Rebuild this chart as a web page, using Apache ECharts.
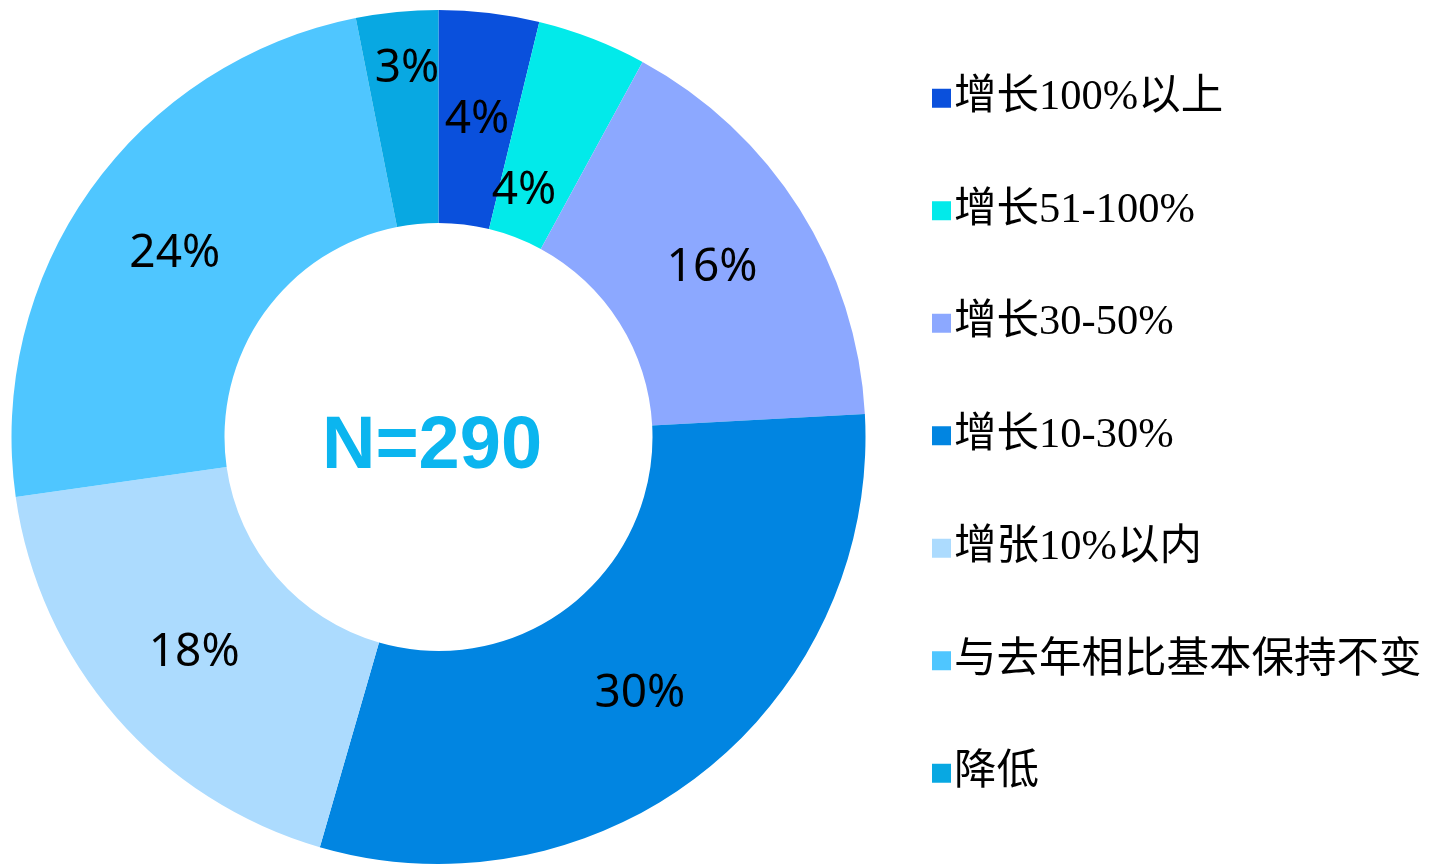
<!DOCTYPE html>
<html>
<head>
<meta charset="utf-8">
<script src="https://cdn.jsdelivr.net/npm/echarts@6/dist/echarts.min.js"></script>
<style>
  html, body { margin: 0; padding: 0; background: #fff; }
  #main { width: 1429px; height: 865px; }
</style>
</head>
<body>
<div id="main"></div>
<script>
// counts out of N=290
var categories = ['增长100%以上', '增长51-100%', '增长30-50%', '增长10-30%', '增张10%以内', '与去年相比基本保持不变', '降低'];
var counts = [11, 12, 47, 88, 53, 70, 9];
var colors = ['#0A50DC', '#02EAEA', '#8CA8FF', '#0185E1', '#ACDBFE', '#4FC6FF', '#08A8E2'];
var totalText = 'N=290';

// labels of the two small top slices are nudged off the ring middle
var labelShift = {
    '增长51-100%': [-31, 52],
    '降低': [0, -50]
};

var pieData = categories.map(function (name, i) {
    return { name: name, value: counts[i], itemStyle: { color: colors[i] } };
});

var myChart = echarts.init(document.getElementById('main'));
var option = {
    animation: false,
    legend: {
        orient: 'vertical',
        left: 927,
        top: 72,
        icon: 'rect',
        itemWidth: 19,
        itemHeight: 19,
        itemGap: 70,
        textStyle: {
            fontFamily: '"Liberation Serif", "Noto Sans CJK SC"',
            fontSize: 42.5,
            lineHeight: 42,
            color: '#000',
            padding: [0, 0, 0, -2]
        },
        data: categories
    },
    graphic: [{
        type: 'text',
        x: 432,
        y: 448,
        style: {
            text: totalText,
            align: 'center',
            verticalAlign: 'middle',
            fontFamily: '"Liberation Sans", Arial',
            fontWeight: 'bold',
            fontSize: 74,
            fill: '#0BB5EF'
        }
    }],
    series: [{
        type: 'pie',
        center: [438.5, 437],
        radius: [214, 427],
        startAngle: 90,
        clockwise: true,
        avoidLabelOverlap: false,
        label: {
            show: true,
            position: 'inside',
            color: '#000',
            fontFamily: '"Noto Sans"',
            fontSize: 46,
            formatter: function (p) {
                return Math.round(p.percent) + '%';
            }
        },
        labelLayout: function (params) {
            var s = labelShift[categories[params.dataIndex]] || [0, 0];
            return { hideOverlap: false, dx: s[0], dy: s[1] + 4 };
        },
        labelLine: { show: false },
        emphasis: { disabled: true },
        data: pieData
    }]
};
myChart.setOption(option);
</script>
</body>
</html>
